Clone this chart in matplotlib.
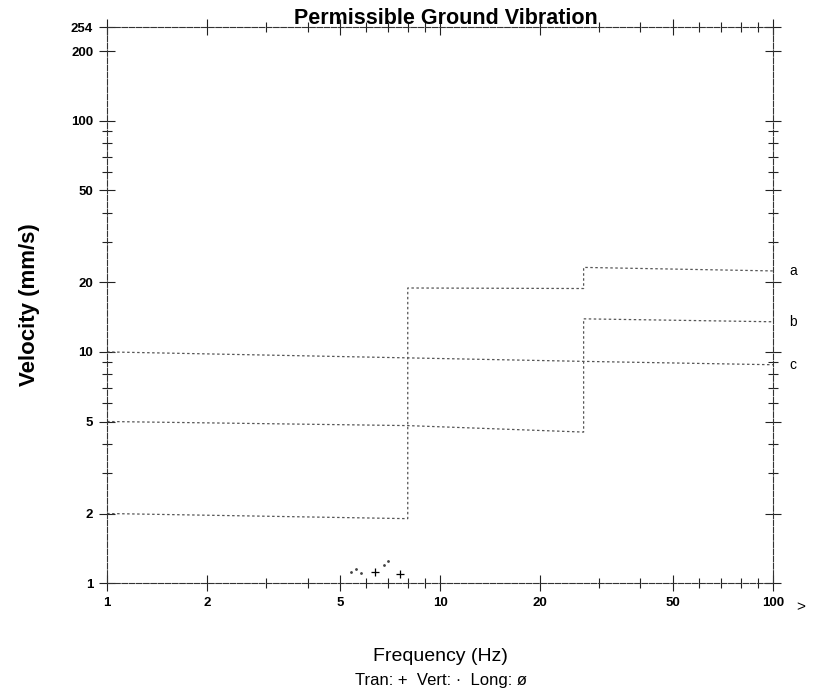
import numpy as np
import matplotlib
matplotlib.use("Agg")
import matplotlib.pyplot as plt
from matplotlib.ticker import FixedLocator, LogLocator, NullFormatter

plt.rcParams['font.family'] = ['Liberation Sans', 'DejaVu Sans']

# limit curves (Hz, mm/s)
freq_a = [1, 8, 8, 27, 27, 100]
vel_a = [2.0, 1.9, 18.9, 18.8, 23.2, 22.4]
freq_b = [1, 8, 27, 27, 100]
vel_b = [5.0, 4.8, 4.5, 13.9, 13.5]
freq_c = [1, 27, 100]
vel_c = [10.0, 9.1, 8.8]

# recorded peaks
tran_f = [6.4, 7.6]
tran_v = [1.12, 1.10]
vert_f = [5.4, 5.6, 5.8, 6.8, 7.0]
vert_v = [1.12, 1.15, 1.11, 1.20, 1.25]

x_ticks = [1, 2, 5, 10, 20, 50, 100]
y_ticks = [1, 2, 5, 10, 20, 50, 100, 200, 254]

fig = plt.figure(figsize=(8.24, 6.95), dpi=100)
ax = fig.add_axes([0.130, 0.161, 0.808, 0.800])
ax.set_xscale('log')
ax.set_yscale('log')
ax.set_xlim(1, 100)
ax.set_ylim(1, 254)

line_kw = dict(color='#555555', lw=0.9, ls=(0, (2, 2)))
ax.plot(freq_a, vel_a, **line_kw)
ax.plot(freq_b, vel_b, **line_kw)
ax.plot(freq_c, vel_c, **line_kw)

ax.plot(tran_f, tran_v, ls='none', marker='+', ms=6, mew=0.9, color='black', clip_on=False)
ax.plot(vert_f, vert_v, ls='none', marker='.', ms=2, color='#444444', clip_on=False)

for lab, v in zip(['a', 'b', 'c'], [22.4, 13.5, 8.8]):
    ax.text(112, v, lab, fontsize=10, va='center', ha='left', clip_on=False)
ax.annotate('>', xy=(1, 0), xycoords='axes fraction', xytext=(17, -17),
            textcoords='offset points', fontsize=11, va='center', ha='left')

ax.xaxis.set_major_locator(FixedLocator(x_ticks))
ax.yaxis.set_major_locator(FixedLocator(y_ticks))
ax.set_xticklabels([str(t) for t in x_ticks], fontsize=9.5, fontweight='bold')
ax.set_yticklabels([str(t) for t in y_ticks], fontsize=9.5, fontweight='bold')
ax.xaxis.set_minor_locator(LogLocator(base=10, subs=np.arange(2, 10)))
ax.yaxis.set_minor_locator(LogLocator(base=10, subs=np.arange(2, 10)))
ax.xaxis.set_minor_formatter(NullFormatter())
ax.yaxis.set_minor_formatter(NullFormatter())
ax.tick_params(which='both', direction='inout', top=True, right=True, color='#222222', width=0.8)
ax.tick_params(which='major', length=12, pad=4)
ax.tick_params(which='minor', length=7)

for side in ['left', 'right', 'top', 'bottom']:
    ax.spines[side].set_linestyle((0, (5, 1.5)))
    ax.spines[side].set_linewidth(0.8)
    ax.spines[side].set_color('#333333')

# title sits right on the top frame line, like the scan
ax.text(0.509, 1.016, 'Permissible Ground Vibration', transform=ax.transAxes,
        fontsize=15.5, fontweight='bold', ha='center', va='center')
ax.set_ylabel('Velocity (mm/s)', fontsize=16, fontweight='bold', labelpad=22)
ax.set_xlabel('Frequency (Hz)', fontsize=14, labelpad=28)
fig.text(0.535, 0.021, 'Tran: +  Vert: ·  Long: ø', fontsize=12, ha='center', va='center')

fig.savefig('out.png', dpi=100, facecolor='white')
